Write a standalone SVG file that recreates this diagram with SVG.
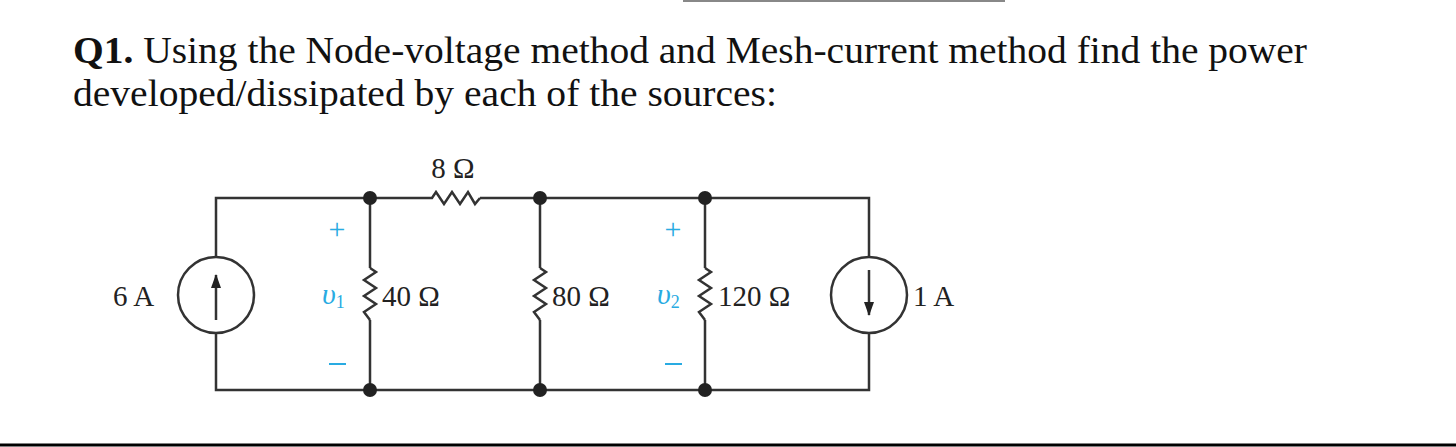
<svg xmlns="http://www.w3.org/2000/svg" width="1456" height="447" viewBox="0 0 1456 447">
<style>
.t{font-family:"Liberation Serif",serif;font-size:37px;fill:#111}
.l{font-family:"Liberation Serif",serif;font-size:29px;fill:#222}
.b{font-family:"Liberation Serif",serif;font-size:30px;fill:#29abe2}
.w{stroke:#333;stroke-width:2.5;fill:none}
.d{fill:#222}
</style>
<defs><marker id="ah" markerWidth="14" markerHeight="10" refX="13" refY="5" orient="auto" markerUnits="userSpaceOnUse" viewBox="0 0 14 10"><path d="M0,0 L14,5 L0,10 Z" fill="#222"/></marker></defs>
<rect width="1456" height="447" fill="#fff"/>
<line x1="683" y1="1" x2="1005" y2="1" stroke="#888" stroke-width="2"/>
<line x1="0" y1="445" x2="1456" y2="445" stroke="#000" stroke-width="3"/>
<text class="t" x="73" y="63" textLength="1234" lengthAdjust="spacingAndGlyphs"><tspan font-weight="bold">Q1.</tspan> Using the Node-voltage method and Mesh-current method find the power</text>
<text class="t" x="73" y="106" textLength="704" lengthAdjust="spacingAndGlyphs">developed/dissipated by each of the sources:</text>
<g id="connectors">
<path class="w" d="M216,257 V198 H427 M480,198 H869 V257 M869,333 V390 H216 V333"/>
<path class="w" d="M370,198 V268 M370,320 V390 M540,198 V268 M540,320 V390 M705,198 V268 M705,320 V390"/>
</g>
<g id="R8"><path class="w" d="M427,198 L432,198 L436,192 L444,204 L452,192 L460,204 L468,192 L475,204 L480,198"/><text class="l" x="453" y="178" text-anchor="middle">8 Ω</text></g>
<g id="R40"><path class="w" d="M370,268 L376,272 L364,280 L376,288 L364,296 L376,304 L364,312 L370,320"/><text class="l" x="382" y="306">40 Ω</text></g>
<g id="R80"><path class="w" d="M540,268 L546,272 L534,280 L546,288 L534,296 L546,304 L534,312 L540,320"/><text class="l" x="552" y="306">80 Ω</text></g>
<g id="R120"><path class="w" d="M705,268 L711,272 L699,280 L711,288 L699,296 L711,304 L699,312 L705,320"/><text class="l" x="718" y="306">120 Ω</text></g>
<g id="I6"><circle class="w" cx="216" cy="295" r="38"/><line class="w" x1="216" y1="320" x2="216" y2="275" marker-end="url(#ah)"/><text class="l" x="113" y="306">6 A</text></g>
<g id="I1"><circle class="w" cx="869" cy="295" r="38"/><line class="w" x1="869" y1="270" x2="869" y2="315" marker-end="url(#ah)"/><text class="l" x="913" y="306">1 A</text></g>
<g id="nodes">
<circle class="d" cx="370" cy="198" r="7"/><circle class="d" cx="540" cy="198" r="7"/><circle class="d" cx="705" cy="198" r="7"/>
<circle class="d" cx="370" cy="390" r="7"/><circle class="d" cx="540" cy="390" r="7"/><circle class="d" cx="705" cy="390" r="7"/>
</g>
<g id="v1"><text class="b" x="337" y="239" text-anchor="middle">+</text><text class="b" x="322" y="304" font-style="italic" font-size="26">υ<tspan font-size="18" font-style="normal" dy="4">1</tspan></text><line x1="329" y1="364" x2="346" y2="364" stroke="#29abe2" stroke-width="2"/></g>
<g id="v2"><text class="b" x="673" y="239" text-anchor="middle">+</text><text class="b" x="657" y="304" font-style="italic" font-size="26">υ<tspan font-size="18" font-style="normal" dy="4">2</tspan></text><line x1="665" y1="364" x2="682" y2="364" stroke="#29abe2" stroke-width="2"/></g>
</svg>
